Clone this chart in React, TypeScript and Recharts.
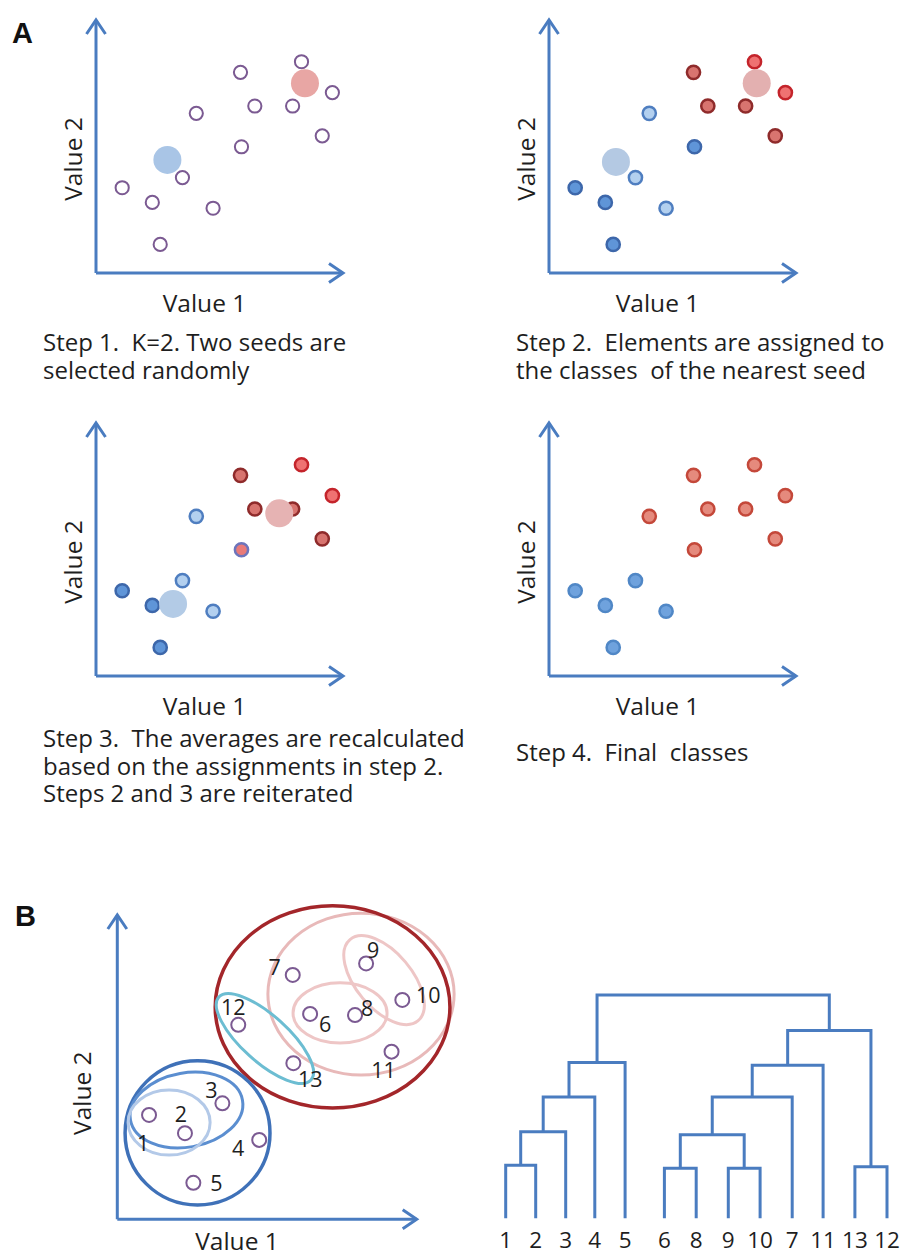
import React from "react";
import {
  ScatterChart,
  Scatter,
  LineChart,
  Line,
  XAxis,
  YAxis,
  ReferenceArea,
} from "recharts";

// ---------- A: the 13 elements (same positions in every K-means step) ----------
const POINT_X = [8.32, 5.85, 9.57, 6.43, 7.96, 4.06, 9.16, 5.89, 3.5, 1.06, 2.28, 4.74, 2.6];
const POINT_Y = [8.35, 7.93, 7.13, 6.6, 6.6, 6.31, 5.42, 4.99, 3.77, 3.37, 2.79, 2.56, 1.13];

// class of every element at each step
const STEP1_CLASS = ["open", "open", "open", "open", "open", "open", "open", "open", "open", "open", "open", "open", "open"];
const STEP2_CLASS = ["redHi", "red", "redHi", "red", "red", "blueLt", "red", "blue", "blueLt", "blue", "blue", "blueLt", "blue"];
const STEP3_CLASS = ["redHi", "red", "redHi", "red", "red", "blueLt", "red", "mixed", "blueLt", "blue", "blue", "blueLt", "blue"];
const STEP4_CLASS = ["redF", "redF", "redF", "redF", "redF", "redF", "redF", "redF", "blueF", "blueF", "blueF", "blueF", "blueF"];

// seeds / class averages: [blue, red]
const STEP1_SEED_X = [2.89, 8.46];
const STEP1_SEED_Y = [4.47, 7.5];
const STEP2_SEED_X = [2.71, 8.41];
const STEP2_SEED_Y = [4.39, 7.5];
const STEP3_SEED_X = [3.12, 7.42];
const STEP3_SEED_Y = [2.85, 6.43];

const CAPTION_1 = ["Step 1.  K=2. Two seeds are", "selected randomly"];
const CAPTION_2 = ["Step 2.  Elements are assigned to", "the classes  of the nearest seed"];
const CAPTION_3 = [
  "Step 3.  The averages are recalculated",
  "based on the assignments in step 2.",
  "Steps 2 and 3 are reiterated",
];
const CAPTION_4 = ["Step 4.  Final  classes"];

// ---------- B: hierarchical clustering ----------
const B_NAMES = ["1", "2", "3", "4", "5", "6", "7", "8", "9", "10", "11", "12", "13"];
const B_X = [1.06, 2.26, 3.51, 4.74, 2.54, 6.44, 5.86, 7.94, 8.31, 9.52, 9.16, 4.04, 5.88];
const B_Y = [3.43, 2.83, 3.81, 2.61, 1.2, 6.75, 8.03, 6.71, 8.41, 7.21, 5.51, 6.39, 5.13];

// nested cluster outlines (centre, half axes, tilt in degrees)
const CLUSTER_NAMES = ["6-11", "6-13", "9-10", "6-8", "12-13", "1-5", "1-3", "1-2"];
const CLUSTER_CX = [8.14, 7.19, 8.91, 7.44, 4.93, 2.68, 2.31, 1.73];
const CLUSTER_CY = [7.4, 6.98, 7.86, 6.78, 5.94, 2.84, 3.59, 3.18];
const CLUSTER_RX = [3.11, 3.92, 1.77, 1.57, 2.07, 2.42, 1.9, 1.37];
const CLUSTER_RY = [2.66, 3.32, 0.92, 0.99, 0.76, 2.37, 1.22, 1.07];
const CLUSTER_TILT = [0, 0, 50, 0, 42, 0, -10, 0];

// dendrogram
const LEAF_LABELS = ["1", "2", "3", "4", "5", "6", "8", "9", "10", "7", "11", "13", "12"];
const LEAF_POS = [0, 1, 2, 2.97, 3.98, 5.29, 6.35, 7.42, 8.48, 9.55, 10.58, 11.64, 12.71];
// node ids 0-12 are leaves, 13+ are the merges in this order
const MERGE_A = [0, 13, 14, 15, 5, 7, 17, 19, 20, 11, 21, 16];
const MERGE_B = [1, 2, 3, 4, 6, 8, 18, 9, 10, 12, 22, 23];
const MERGE_H = [1.0, 1.63, 2.28, 2.93, 0.94, 0.94, 1.57, 2.28, 2.88, 0.97, 3.53, 4.2];

// ---------- styles ----------
const FONT = '"Open Sans", sans-serif';
const TEXT = "#1e1e1e";
const AXIS_BLUE = "#4a7cc0";

const DOT_STYLE: Record<string, { fill: string; stroke: string; width: number }> = {
  open: { fill: "#ffffff", stroke: "#7b5a92", width: 2 },
  red: { fill: "#d8746f", stroke: "#8f2b2b", width: 2.5 },
  redHi: { fill: "#ef7272", stroke: "#c4242b", width: 2.5 },
  blue: { fill: "#5f95d8", stroke: "#3d67aa", width: 2.5 },
  blueLt: { fill: "#b3d0ef", stroke: "#4f7ec0", width: 2.5 },
  mixed: { fill: "#e97a78", stroke: "#6d74bb", width: 2.5 },
  redF: { fill: "#e58a7d", stroke: "#c4483a", width: 2.5 },
  blueF: { fill: "#6fa2dd", stroke: "#5087c6", width: 2.5 },
};

const CLUSTER_COLOR = ["#e8b9b9", "#a3262a", "#eec6c6", "#eec6c6", "#6cbdd2", "#3f71b8", "#5b8ed0", "#b3c9e8"];
const CLUSTER_WIDTH = [3, 3.5, 3, 3, 3, 3.5, 3, 3];

// label nudges (px) for the numbered elements in B
const B_LABEL_NUDGE = [
  [-6, 28], [-4, -20], [-11, -14], [-21, 8], [23, 0], [15, 10], [-18, -8],
  [12, -8], [7, -14], [26, -5], [-8, 18], [-5, -18], [17, 15],
];

const X_AXIS_LINE = { stroke: AXIS_BLUE, strokeWidth: 3, markerEnd: "url(#axisArrow)" };
const Y_AXIS_LINE = { stroke: AXIS_BLUE, strokeWidth: 3, markerStart: "url(#axisArrow)" };

const titleStyle = { fontFamily: FONT, fontSize: 24.5, fill: TEXT };

const xTitle = (dx: number, dy: number) => ({
  content: ({ viewBox }: any) => (
    <text
      x={viewBox.x + viewBox.width / 2 + dx}
      y={viewBox.y + dy}
      textAnchor="middle"
      dominantBaseline="central"
      style={titleStyle}
    >
      Value 1
    </text>
  ),
});

const yTitle = (dx: number, dy: number) => ({
  content: ({ viewBox }: any) => {
    const cx = viewBox.x + viewBox.width + dx;
    const cy = viewBox.y + viewBox.height / 2 + dy;
    return (
      <text
        x={cx}
        y={cy}
        transform={`rotate(-90 ${cx} ${cy})`}
        textAnchor="middle"
        dominantBaseline="central"
        style={titleStyle}
      >
        Value 2
      </text>
    );
  },
});

interface PanelProps {
  left: number;
  top: number;
  classes: string[];
  seedX?: number[];
  seedY?: number[];
  seedColors?: string[];
}

function KMeansPanel({ left, top, classes, seedX = [], seedY = [], seedColors = [] }: PanelProps) {
  const rows = POINT_X.map((x, i) => ({ x, y: POINT_Y[i], cls: classes[i] }));
  const groups = classes.filter((c, i) => classes.indexOf(c) === i);

  return (
    <div style={{ position: "absolute", left, top }}>
      <ScatterChart width={453} height={330} margin={{ top: 20, right: 110, bottom: 17, left: 56 }}>
        <XAxis
          type="number"
          dataKey="x"
          domain={[0, 10]}
          height={40}
          tick={false}
          tickLine={false}
          axisLine={X_AXIS_LINE}
          label={xTitle(-15, 29)}
        />
        <YAxis
          type="number"
          dataKey="y"
          domain={[0, 10]}
          width={40}
          tick={false}
          tickLine={false}
          axisLine={Y_AXIS_LINE}
          label={yTitle(-24, 12.5)}
        />
        {groups.map((g) => {
          const st = DOT_STYLE[g];
          return (
            <Scatter
              key={g}
              data={rows.filter((r) => r.cls === g)}
              isAnimationActive={false}
              shape={(p: any) => (
                <circle cx={p.cx} cy={p.cy} r={6.6} fill={st.fill} stroke={st.stroke} strokeWidth={st.width} />
              )}
            />
          );
        })}
        {seedX.map((x, i) => (
          <Scatter
            key={`seed-${i}`}
            data={[{ x, y: seedY[i] }]}
            isAnimationActive={false}
            shape={(p: any) => <circle cx={p.cx} cy={p.cy} r={14} fill={seedColors[i]} />}
          />
        ))}
      </ScatterChart>
    </div>
  );
}

function Caption({ left, top, lines }: { left: number; top: number; lines: string[] }) {
  return (
    <div
      style={{
        position: "absolute",
        left,
        top,
        fontFamily: FONT,
        fontSize: 24,
        lineHeight: "27.5px",
        whiteSpace: "pre",
        color: TEXT,
      }}
    >
      {lines.map((l) => (
        <div key={l}>{l}</div>
      ))}
    </div>
  );
}

const ellipseShape = (tilt: number, color: string, width: number) => (p: any) => {
  const w = Math.abs(p.width);
  const h = Math.abs(p.height);
  const cx = Math.min(p.x, p.x + p.width) + w / 2;
  const cy = Math.min(p.y, p.y + p.height) + h / 2;
  return (
    <ellipse
      cx={cx}
      cy={cy}
      rx={w / 2}
      ry={h / 2}
      transform={`rotate(${tilt} ${cx} ${cy})`}
      fill="none"
      stroke={color}
      strokeWidth={width}
    />
  );
};

const bDot = (p: any) => {
  const i = B_NAMES.indexOf(p.payload.name);
  const [dx, dy] = B_LABEL_NUDGE[i];
  return (
    <g>
      <circle cx={p.cx} cy={p.cy} r={7} fill="none" stroke="#7b5a92" strokeWidth={2} />
      <text
        x={p.cx + dx}
        y={p.cy + dy}
        textAnchor="middle"
        dominantBaseline="central"
        fontFamily={FONT}
        fontSize={21.5}
        fill={TEXT}
      >
        {p.payload.name}
      </text>
    </g>
  );
};

// build the U-shaped links of the dendrogram from the merge table
const nodeX: number[] = [...LEAF_POS];
const nodeH: number[] = LEAF_POS.map(() => 0);
const LINKS = MERGE_A.map((a, i) => {
  const b = MERGE_B[i];
  const h = MERGE_H[i];
  const seg = [
    { x: nodeX[a], y: nodeH[a] },
    { x: nodeX[a], y: h },
    { x: nodeX[b], y: h },
    { x: nodeX[b], y: nodeH[b] },
  ];
  nodeX.push((nodeX[a] + nodeX[b]) / 2);
  nodeH.push(h);
  return seg;
});

const panelLetter = (left: number, top: number, letter: string) => (
  <div
    style={{
      position: "absolute",
      left,
      top,
      fontFamily: '"Liberation Sans", Arial, sans-serif',
      fontWeight: 700,
      fontSize: 29,
      lineHeight: "30px",
      color: "#111",
    }}
  >
    {letter}
  </div>
);

export default function App() {
  const bRows = B_NAMES.map((name, i) => ({ name, x: B_X[i], y: B_Y[i] }));

  return (
    <div
      style={{
        position: "absolute",
        left: 0,
        top: 0,
        width: 906,
        height: 1258,
        background: "#ffffff",
        overflow: "hidden",
      }}
    >
      <svg width={0} height={0} style={{ position: "absolute" }}>
        <defs>
          <marker
            id="axisArrow"
            markerUnits="userSpaceOnUse"
            markerWidth={22}
            markerHeight={26}
            viewBox="-18 -13 22 26"
            refX={0}
            refY={0}
            orient="auto-start-reverse"
          >
            <path d="M -14 -9.5 L 0 0 L -14 9.5" fill="none" stroke={AXIS_BLUE} strokeWidth={3} />
          </marker>
        </defs>
      </svg>

      {panelLetter(12, 18, "A")}

      <KMeansPanel
        left={0}
        top={0}
        classes={STEP1_CLASS}
        seedX={STEP1_SEED_X}
        seedY={STEP1_SEED_Y}
        seedColors={["#a9c5e6", "#e8a6a4"]}
      />
      <KMeansPanel
        left={452.5}
        top={0}
        classes={STEP2_CLASS}
        seedX={STEP2_SEED_X}
        seedY={STEP2_SEED_Y}
        seedColors={["#b4c9e3", "#e3b0b0"]}
      />
      <KMeansPanel
        left={0}
        top={403}
        classes={STEP3_CLASS}
        seedX={STEP3_SEED_X}
        seedY={STEP3_SEED_Y}
        seedColors={["#b3cbe6", "#e6b3b3"]}
      />
      <KMeansPanel left={452.5} top={403} classes={STEP4_CLASS} />

      <Caption left={43} top={328} lines={CAPTION_1} />
      <Caption left={516} top={328} lines={CAPTION_2} />
      <Caption left={43} top={724} lines={CAPTION_3} />
      <Caption left={516} top={738} lines={CAPTION_4} />

      {panelLetter(15, 901, "B")}

      <div style={{ position: "absolute", left: 0, top: 880 }}>
        <ScatterChart width={470} height={378} margin={{ top: 35, right: 53.3, bottom: 8.7, left: 77.3 }}>
          <XAxis
            type="number"
            dataKey="x"
            domain={[0, 10]}
            height={30}
            tick={false}
            tickLine={false}
            axisLine={X_AXIS_LINE}
            label={xTitle(-30, 21.5)}
          />
          <YAxis
            type="number"
            dataKey="y"
            domain={[0, 10]}
            width={40}
            tick={false}
            tickLine={false}
            axisLine={Y_AXIS_LINE}
            label={yTitle(-35.6, 26)}
          />
          {CLUSTER_NAMES.map((name, i) => (
            <ReferenceArea
              key={name}
              x1={CLUSTER_CX[i] - CLUSTER_RX[i]}
              x2={CLUSTER_CX[i] + CLUSTER_RX[i]}
              y1={CLUSTER_CY[i] - CLUSTER_RY[i]}
              y2={CLUSTER_CY[i] + CLUSTER_RY[i]}
              ifOverflow="visible"
              shape={ellipseShape(CLUSTER_TILT[i], CLUSTER_COLOR[i], CLUSTER_WIDTH[i])}
            />
          ))}
          <Scatter data={bRows} shape={bDot} isAnimationActive={false} />
        </ScatterChart>
      </div>

      <div style={{ position: "absolute", left: 453, top: 960 }}>
        <LineChart width={453} height={298} margin={{ top: 35, right: 19, bottom: 9.7, left: 52.7 }}>
          <XAxis
            type="number"
            dataKey="x"
            domain={[0, 12.71]}
            ticks={LEAF_POS}
            interval={0}
            tickFormatter={(v: number) => LEAF_LABELS[LEAF_POS.indexOf(v)]}
            axisLine={false}
            tickLine={false}
            tickSize={6}
            tickMargin={8}
            height={30}
            tick={{ fontSize: 22.5, fill: TEXT, fontFamily: FONT }}
          />
          <YAxis type="number" domain={[0, 4.2]} hide />
          {LINKS.map((seg, i) => (
            <Line
              key={i}
              data={seg}
              dataKey="y"
              type="linear"
              stroke={AXIS_BLUE}
              strokeWidth={3}
              dot={false}
              activeDot={false}
              isAnimationActive={false}
            />
          ))}
        </LineChart>
      </div>
    </div>
  );
}
